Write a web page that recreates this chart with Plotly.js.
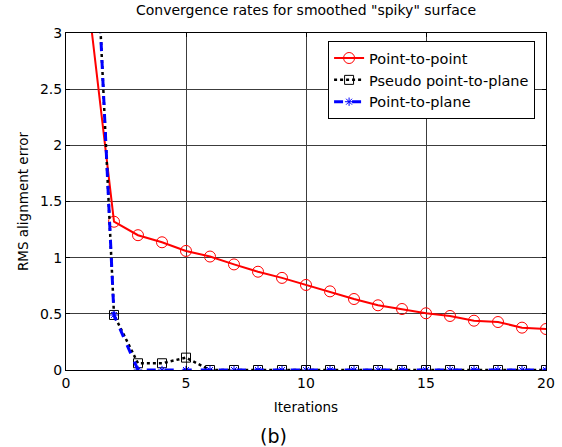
<!DOCTYPE html>
<html>
<head>
<meta charset="utf-8">
<script src="https://cdn.plot.ly/plotly-3.0.1.min.js"></script>
<style>html,body{margin:0;padding:0;background:#fff;}#chart{width:562px;height:447px;}</style>
</head>
<body>
<div id="chart"></div>
<script>
var iterations = [1,2,3,4,5,6,7,8,9,10,11,12,13,14,15,16,17,18,19,20];
var pointToPoint = [3.15,1.32,1.20,1.137,1.06,1.01,0.94,0.875,0.82,0.757,0.70,0.632,0.576,0.543,0.505,0.481,0.439,0.427,0.377,0.365];
var pseudoPointToPlane = [5.0,0.49,0.06,0.06,0.11,0,0,0,0,0,0,0,0,0,0,0,0,0,0,0];
var pointToPlane = [5.0,0.49,0,0,0,0,0,0,0,0,0,0,0,0,0,0,0,0,0,0];
var seriesNames = ['Point-to-point','Pseudo point-to-plane','Point-to-plane'];
var xTicks = [0,5,10,15,20];
var yTicks = [0,0.5,1,1.5,2,2.5,3];

var font = 'DejaVu Sans, Liberation Sans, Arial, sans-serif';
var traces = [
  {x: iterations, y: pointToPoint, name: seriesNames[0], mode: 'lines+markers',
   line: {color: '#ff0000', width: 2}, marker: {symbol: 'circle-open', size: 11, color: '#ff0000', line: {width: 1}}},
  {x: iterations, y: pseudoPointToPlane, name: seriesNames[1], mode: 'lines+markers',
   line: {color: '#000000', width: 2.5, dash: 'dot'}, marker: {symbol: 'square-open', size: 9, color: '#000000', line: {width: 1}}},
  {x: iterations, y: pointToPlane, name: seriesNames[2], mode: 'lines+markers',
   line: {color: '#0000ff', width: 3, dash: 'dash'}, marker: {symbol: 'asterisk-open', size: 7, color: '#0000ff', line: {width: 1, color: '#0000ff'}}}
];
var axisCommon = {showline: true, mirror: 'ticks', linecolor: '#000', linewidth: 1, ticks: 'inside', ticklen: 4,
  tickcolor: '#000', showgrid: true, gridcolor: '#3c3c3c', gridwidth: 1, zeroline: false,
  tickfont: {family: font, size: 14, color: '#000'}};
var layout = {
  width: 562, height: 447,
  margin: {l: 66, r: 16, t: 33, b: 77},
  paper_bgcolor: '#fff', plot_bgcolor: '#fff',
  font: {family: font, color: '#000'},
  title: {text: 'Convergence rates for smoothed "spiky" surface', font: {family: font, size: 14, color: '#000'},
          x: 0.5, xref: 'paper', y: 0.978, yref: 'container', yanchor: 'middle'},
  xaxis: Object.assign({}, axisCommon, {range: [0, 20], tickvals: xTicks, ticktext: xTicks.map(String),
          title: {text: 'Iterations', font: {family: font, size: 13.5, color: '#000'}, standoff: 12}}),
  yaxis: Object.assign({}, axisCommon, {range: [0, 3], tickvals: yTicks, ticktext: yTicks.map(String),
          title: {text: 'RMS alignment error', font: {family: font, size: 13.5, color: '#000'}, standoff: 8}}),
  legend: {x: 0.546, y: 0.976, xanchor: 'left', yanchor: 'top', bgcolor: '#fff', bordercolor: '#000', borderwidth: 1,
           font: {family: font, size: 14.5, color: '#000'}, tracegroupgap: 0, itemwidth: 30},
  annotations: [{text: '(b)', xref: 'paper', yref: 'paper', x: 0.433, y: -0.195, yanchor: 'middle', showarrow: false,
                 font: {family: font, size: 19, color: '#000'}}],
  showlegend: true
};
Plotly.newPlot('chart', traces, layout, {displayModeBar: false, staticPlot: true});
</script>
</body>
</html>
